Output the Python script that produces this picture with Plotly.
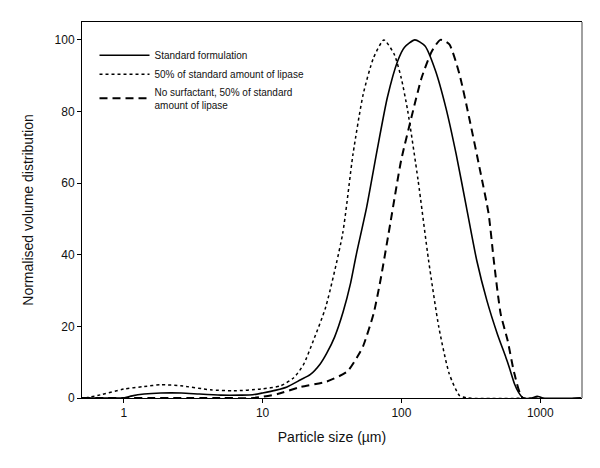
import plotly.graph_objects as go

# Standard formulation (solid)
std_x = [0.5, 0.9, 1.0, 1.15, 1.4, 1.85, 2.6, 3.5, 5.0, 7.0, 8.5, 10, 12.5, 15, 18.8, 22, 26, 29, 33, 38, 43, 47.4, 56.2, 66.7, 79.2, 94, 105, 125, 148, 176, 209, 248, 294, 349, 413, 491, 565, 598, 652, 700, 752, 870, 950, 1050, 2000]
std_y = [0, 0, 0, 0.6, 1.1, 1.4, 1.4, 1.1, 0.8, 0.8, 0.9, 1.4, 2.2, 3.1, 5.1, 6.5, 9.5, 12.5, 17, 24, 32, 40.2, 53.3, 69, 83.9, 94.1, 97.9, 100, 98.3, 91.4, 81.1, 68.1, 53.3, 38.4, 27.2, 17.9, 11.4, 8.6, 4.0, 1.5, 0, 0, 0.5, 0, 0]

# 50% of standard amount of lipase (dotted)
lip_x = [0.53, 0.7, 1.0, 1.4, 1.85, 2.57, 4.2, 6.2, 9.7, 13.5, 16.7, 19.7, 23.3, 28.5, 37.7, 44.8, 53.1, 63, 74.8, 88.7, 99.5, 111, 132, 157, 186, 221, 262, 300, 1000]
lip_y = [0, 1.0, 2.5, 3.2, 3.7, 3.4, 2.3, 2.0, 2.5, 3.4, 5.6, 9.3, 16.2, 25.4, 45.8, 68.1, 84.9, 95, 100, 96, 89.5, 80.2, 60.7, 38.4, 19.8, 6.8, 0.7, 0, 0]

# No surfactant, 50% of standard amount of lipase (dashed)
nos_x = [0.5, 5.0, 8.6, 12.8, 18.8, 29, 40.7, 49, 53, 63, 70.6, 83.8, 99.5, 118, 140, 166, 191, 221, 262, 311, 369, 425, 463, 519, 582, 652, 752, 2000]
nos_y = [0, 0, 0, 1.1, 3.1, 4.6, 7.4, 12.0, 14.5, 23.5, 32.8, 49.5, 66.3, 78.3, 89.5, 96.9, 100, 98.8, 90.4, 77.4, 63.5, 51.4, 38.4, 23.5, 16.1, 6.8, 0, 0]

x_ticks = [1, 10, 100, 1000]
y_ticks = [0, 20, 40, 60, 80, 100]

fig = go.Figure()
fig.add_trace(go.Scatter(x=std_x, y=std_y, mode="lines", name="Standard formulation",
                         line=dict(color="black", width=1.6, shape="spline", smoothing=0.6)))
fig.add_trace(go.Scatter(x=lip_x, y=lip_y, mode="lines", name="50% of standard amount of lipase",
                         line=dict(color="black", width=1.5, dash="dot", shape="spline", smoothing=0.6)))
fig.add_trace(go.Scatter(x=nos_x, y=nos_y, mode="lines", name="No surfactant, 50% of standard<br>amount of lipase",
                         line=dict(color="black", width=2, dash="8px,5px", shape="spline", smoothing=0.6)))

fig.update_layout(
    width=600, height=468,
    margin=dict(l=74, r=26, t=14, b=78),
    paper_bgcolor="white", plot_bgcolor="white",
    font=dict(family="Liberation Sans, Arial, sans-serif", color="#111", size=12),
    showlegend=True,
    legend=dict(x=0.025, y=0.95, xanchor="left", yanchor="top", bgcolor="rgba(0,0,0,0)",
                font=dict(size=10), itemwidth=50, tracegroupgap=0),
    xaxis=dict(type="log", range=[-0.301, 3.301], tickvals=x_ticks, ticktext=[str(v) for v in x_ticks],
               showgrid=False, zeroline=False, showline=True, linecolor="black", linewidth=1,
               mirror=True, ticks="outside", ticklen=4, tickcolor="black",
               title=dict(text="Particle size (µm)", font=dict(size=14), standoff=12)),
    yaxis=dict(range=[0, 105], tickvals=y_ticks, showgrid=False, zeroline=False,
               showline=True, linecolor="black", linewidth=1, ticks="outside", ticklen=4,
               tickcolor="black",
               title=dict(text="Normalised volume distribution", font=dict(size=14), standoff=17)),
    shapes=[dict(type="line", xref="paper", yref="paper", x0=1, x1=1, y0=0, y1=1,
                 line=dict(color="#a0a0a0", width=2))],
)

fig.write_html("out.html")
